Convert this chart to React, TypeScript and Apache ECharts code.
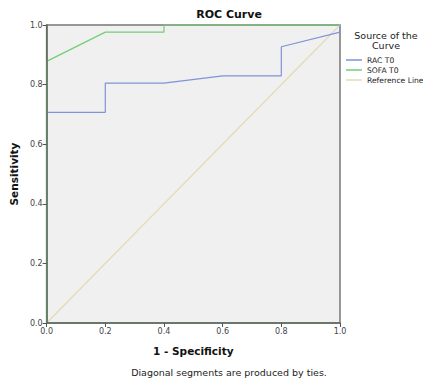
import React, { useEffect, useRef } from "react";
import * as echarts from "echarts";

const seriesNames = ["RAC T0", "SOFA T0", "Reference Line"];
const racFpr = [0, 0, 0.2, 0.2, 0.4, 0.6, 0.8, 0.8, 1, 1];
const racTpr = [0, 0.707, 0.707, 0.805, 0.805, 0.829, 0.829, 0.927, 0.976, 1];
const sofaFpr = [0, 0, 0.2, 0.4, 0.4, 1];
const sofaTpr = [0, 0.878, 0.976, 0.976, 1, 1];
const refFpr = [0, 1];
const refTpr = [0, 1];
const tickLabels = ["0.0", "0.2", "0.4", "0.6", "0.8", "1.0"];
const seriesColors = ["#7f93d8", "#74cc74", "#e2dcb6"];
const seriesZ = [4, 5, 3];

const FONT = "DejaVu Sans";

const zip = (xs: number[], ys: number[]) => xs.map((x, i) => [x, ys[i]]);

export default function App() {
  const ref = useRef<HTMLDivElement>(null);
  useEffect(() => {
    if (!ref.current) return;
    const chart = echarts.init(ref.current, null, { renderer: "svg" });
    const axisCommon = {
      type: "value" as const,
      min: 0,
      max: 1,
      interval: 0.2,
      splitLine: { show: false },
      axisLine: { show: true, lineStyle: { color: "#5d6b5d", width: 1.5 } },
      axisTick: { show: true, inside: false, length: 4, lineStyle: { color: "#555" } },
      axisLabel: {
        fontFamily: FONT,
        fontSize: 8,
        color: "#444",
        margin: 4,
        formatter: (v: number) => tickLabels[Math.round(v * 5)],
      },
      nameLocation: "middle" as const,
      nameTextStyle: { fontFamily: FONT, fontSize: 10.5, fontWeight: "bold", color: "#111" },
    };
    const datasets = [zip(racFpr, racTpr), zip(sofaFpr, sofaTpr), zip(refFpr, refTpr)];
    chart.setOption({
      animation: false,
      grid: {
        left: 46,
        right: 83,
        top: 25,
        bottom: 59,
        show: true,
        backgroundColor: "#f0f0f0",
        borderColor: "#777",
        borderWidth: 1.5,
      },
      xAxis: { ...axisCommon, name: "1 - Specificity", nameGap: 22, z: 6 },
      yAxis: { ...axisCommon, name: "Sensitivity", nameGap: 27, z: 6 },
      legend: {
        orient: "vertical",
        left: 346,
        top: 55,
        padding: 0,
        itemWidth: 16,
        itemHeight: 1.5,
        itemGap: 0,
        icon: "rect",
        textStyle: { fontFamily: FONT, fontSize: 7.6, lineHeight: 10, color: "#222" },
        data: seriesNames,
      },
      graphic: [
        {
          type: "text",
          x: 229,
          y: 9,
          style: { text: "ROC Curve", font: `bold 11px "${FONT}"`, fill: "#111", align: "center", textAlign: "center" },
        },
        {
          type: "text",
          x: 386,
          y: 30,
          style: {
            text: "Source of the\nCurve",
            font: `9.5px "${FONT}"`,
            lineHeight: 10,
            fill: "#222",
            align: "center",
            textAlign: "center",
          },
        },
        {
          type: "text",
          x: 229,
          y: 367,
          style: {
            text: "Diagonal segments are produced by ties.",
            font: `9.5px "${FONT}"`,
            fill: "#222",
            align: "center",
            textAlign: "center",
          },
        },
      ],
      series: seriesNames.map((name, i) => ({
        name,
        type: "line",
        data: datasets[i],
        symbol: "none",
        clip: false,
        z: seriesZ[i],
        lineStyle: { color: seriesColors[i], width: 1.2 },
        itemStyle: { color: seriesColors[i] },
      })),
    });
    return () => chart.dispose();
  }, []);
  return (
    <div
      ref={ref}
      style={{ position: "absolute", left: 0, top: 0, width: 423, height: 382, background: "#fff" }}
    />
  );
}
